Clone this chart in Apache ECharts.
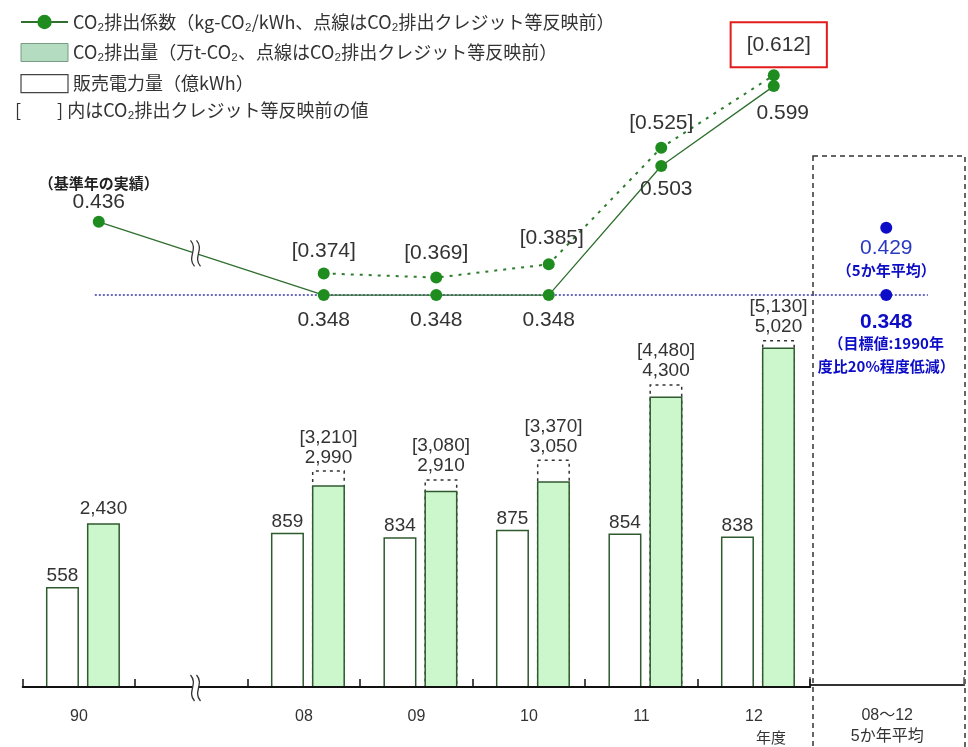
<!DOCTYPE html>
<html><head><meta charset="utf-8">
<script src="https://cdn.jsdelivr.net/npm/echarts@6/dist/echarts.min.js"></script>
<style>html,body{margin:0;padding:0;background:#fff}#c{width:968px;height:747px}</style>
</head><body><div id="c"></div>
<script>
// ---------- data ----------
const categories = ['90', '', '08', '09', '10', '11', '12'];
const avgCategory = '08～12\n5か年平均';
const salesValues = [558, null, 859, 834, 875, 854, 838];            // 販売電力量（億kWh）
const emissionValues = [2430, null, 2990, 2910, 3050, 4300, 5020];    // CO2排出量（万t-CO2）
const emissionBeforeCredit = [null, null, 3210, 3080, 3370, 4480, 5130];
const coefValues = [0.436, null, 0.348, 0.348, 0.348, 0.503, 0.599]; // CO2排出係数
const coefBeforeCredit = [null, null, 0.374, 0.369, 0.385, 0.525, 0.612];
const avgCoef = 0.429;
const targetCoef = 0.348;
const legendNames = [
  'CO₂排出係数（kg-CO₂/kWh、点線はCO₂排出クレジット等反映前）',
  'CO₂排出量（万t-CO₂、点線はCO₂排出クレジット等反映前）',
  '販売電力量（億kWh）'
];
const noteText = '[　　] 内はCO₂排出クレジット等反映前の値';

// ---------- helpers ----------
const NUM_FONT = '"Liberation Sans", Arial, sans-serif';
const JP_FONT = '"Noto Sans CJK JP", sans-serif';
const MIX_FONT = '"Liberation Sans", "Noto Sans CJK JP", sans-serif';
const fmtC = v => Number(v).toLocaleString('en-US');
const fmt3 = v => Number(v).toFixed(3);
const avgIndex = categories.length;
const COEF_MIN = -0.124, COEF_MAX = 0.658;
const GREEN = '#1f8c1f';
const BLUE = '#0d0dc8';

const chart = echarts.init(document.getElementById('c'), null, {renderer: 'canvas'});

const gridCommon = {top: 37, bottom: 59, containLabel: false};
const CAT_W = 112.5;

// label placement (styles kept out of data arrays)
const solidLabel = {
  0: {position: 'top', distance: 4, formatter: p => '{b|（基準年の実績）}\n{v|' + fmt3(p.value[1]) + '}'},
  2: {position: 'bottom', distance: 9},
  3: {position: 'bottom', distance: 9},
  4: {position: 'bottom', distance: 9},
  5: {position: 'bottom', distance: 7, offset: [5, 0]},
  6: {position: 'bottom', distance: 11, offset: [9, 0]}
};
const dottedLabel = {
  2: {distance: 6},
  3: {distance: 8},
  4: {distance: 10, offset: [3, 0]},
  5: {distance: 9},
  6: {distance: 2, offset: [5, 0], borderColor: '#e21b1b', borderWidth: 2, padding: [13, 16, 12, 16]}
};

const solidData = [];
coefValues.forEach((v, i) => { if (v != null) solidData.push({value: [i, v], label: solidLabel[i]}); });
const dottedData = [];
coefBeforeCredit.forEach((v, i) => { if (v != null) dottedData.push({value: [i, v], label: dottedLabel[i]}); });

// break marks: on the coefficient line between 90 and 08, and on the axis
const breakX = 0.86;
const breakLineVal = coefValues[0] + (coefValues[2] - coefValues[0]) * breakX / 2;

function renderBreak(params, api) {
  const p = api.coord([api.value(0), api.value(1)]);
  const h = 13;
  const curves = [-3, 3].map(dx => ({
    type: 'bezierCurve',
    shape: {x1: p[0] + dx - 2, y1: p[1] - h, cpx1: p[0] + dx + 6, cpy1: p[1] - 4,
            cpx2: p[0] + dx - 6, cpy2: p[1] + 4, x2: p[0] + dx + 2, y2: p[1] + h},
    style: {stroke: '#333', lineWidth: 1.3, fill: 'none'}
  }));
  return {type: 'group', children: [
    {type: 'rect', shape: {x: p[0] - 3, y: p[1] - h + 2, width: 6, height: 2 * h - 4}, style: {fill: '#fff'}},
    ...curves
  ]};
}

const option = {
  animation: false,
  backgroundColor: '#fff',
  title: {
    text: noteText, left: 10, top: 96,
    textStyle: {fontSize: 18, fontWeight: 'normal', color: '#333', fontFamily: JP_FONT}
  },
  legend: {
    orient: 'vertical', left: 15, top: 8, itemWidth: 47, itemHeight: 18, itemGap: 12,
    selectedMode: false,
    textStyle: {fontSize: 18, color: '#333', fontFamily: JP_FONT},
    data: [
      {name: legendNames[0]},
      {name: legendNames[1], icon: 'rect', itemStyle: {color: '#b3dcc0', borderColor: '#7a9a85', borderWidth: 1}},
      {name: legendNames[2], icon: 'rect', itemStyle: {color: '#fff', borderColor: '#444', borderWidth: 1.2}}
    ]
  },
  grid: [
    Object.assign({left: 22.7, width: CAT_W * categories.length}, gridCommon),          // axis
    Object.assign({left: 26.7, width: CAT_W * categories.length}, gridCommon),          // bars
    Object.assign({left: 42.5, width: CAT_W * (categories.length + 1)}, gridCommon),    // coefficient lines
    Object.assign({left: 22.7 + CAT_W * categories.length, width: 154}, gridCommon)     // 5-year average
  ],
  xAxis: [
    {
      gridIndex: 0, type: 'category', data: categories, z: 5,
      axisLine: {lineStyle: {color: '#111', width: 2}},
      axisTick: {show: true, inside: true, length: 8, interval: 0, lineStyle: {color: '#111', width: 1.5}},
      axisLabel: {
        interval: 0, margin: 20, fontSize: 16, lineHeight: 20, color: '#333', fontFamily: MIX_FONT,
        formatter: v => v === '12' ? '12\n{n|年度}' : v,
        rich: {n: {fontSize: 15, lineHeight: 20, color: '#333', fontFamily: JP_FONT, padding: [0, 0, 0, 34]}}
      }
    },
    {gridIndex: 1, type: 'category', data: categories, show: false},
    {gridIndex: 1, type: 'category', data: categories, show: false},
    {gridIndex: 2, type: 'value', min: -0.5, max: avgIndex + 0.5, show: false},
    {
      gridIndex: 3, type: 'category', data: [avgCategory],
      axisLine: {lineStyle: {color: '#333', width: 2}},
      axisTick: {show: true, inside: true, length: 8, lineStyle: {color: '#555', width: 1.5}},
      axisLabel: {margin: 20, fontSize: 16, lineHeight: 21, color: '#333', fontFamily: MIX_FONT}
    }
  ],
  yAxis: [
    {gridIndex: 0, type: 'value', show: false, splitLine: {show: false}},
    {gridIndex: 1, type: 'value', min: 0, max: 3600, show: false, splitLine: {show: false}},
    {gridIndex: 1, type: 'value', min: 0, max: 9600, show: false, splitLine: {show: false}},
    {gridIndex: 2, type: 'value', min: COEF_MIN, max: COEF_MAX, show: false, splitLine: {show: false}},
    {gridIndex: 3, type: 'value', show: false, splitLine: {show: false}}
  ],
  graphic: [
    {type: 'rect', z: 0, silent: true,
     shape: {x: 813, y: 156, width: 152, height: 620},
     style: {fill: 'none', stroke: '#333', lineWidth: 1.5, lineDash: [5, 4]}}
  ],
  series: [
    {
      name: legendNames[2], type: 'bar', xAxisIndex: 1, yAxisIndex: 1,
      data: salesValues, barWidth: 33, barGap: '24.2%', z: 3,
      itemStyle: {color: '#ffffff', borderColor: '#2f5a2f', borderWidth: 1.5},
      label: {show: true, position: 'top', distance: 1, fontSize: 19, lineHeight: 20,
              color: '#333', fontFamily: NUM_FONT, formatter: p => fmtC(p.value)}
    },
    {
      name: legendNames[1], type: 'bar', xAxisIndex: 1, yAxisIndex: 2,
      data: emissionValues.map((v, i) => emissionBeforeCredit[i] == null && v != null
        ? {value: v, label: {show: true}} : v),
      barWidth: 33, barGap: '24.2%', z: 3,
      itemStyle: {color: '#ccf7cc', borderColor: '#2f5a2f', borderWidth: 1.5},
      label: {show: false, position: 'top', distance: 4, fontSize: 19, lineHeight: 20,
              color: '#333', fontFamily: NUM_FONT, formatter: p => fmtC(p.value)}
    },
    {
      name: 'placeholder', type: 'bar', xAxisIndex: 2, yAxisIndex: 1,
      data: [], barWidth: 33, barGap: '24.2%'
    },
    {
      name: 'beforeCredit', type: 'bar', xAxisIndex: 2, yAxisIndex: 2,
      data: emissionBeforeCredit, barWidth: 33, barGap: '24.2%', z: 2,
      itemStyle: {color: 'rgba(0,0,0,0)', borderColor: '#333', borderWidth: 1.5, borderType: [3, 4]},
      label: {show: true, position: 'top', distance: 3, fontSize: 19, lineHeight: 20,
              color: '#333', fontFamily: NUM_FONT,
              formatter: p => '[' + fmtC(emissionBeforeCredit[p.dataIndex]) + ']\n' + fmtC(emissionValues[p.dataIndex])}
    },
    {
      name: 'beforeCreditCoef', type: 'line', xAxisIndex: 3, yAxisIndex: 3,
      data: dottedData, z: 5,
      symbol: 'circle', symbolSize: 12,
      itemStyle: {color: GREEN},
      lineStyle: {color: '#2e7d2e', width: 2, type: [3, 6]},
      label: {show: true, position: 'top', fontSize: 21, lineHeight: 20, color: '#333',
              fontFamily: NUM_FONT, formatter: p => '[' + fmt3(p.value[1]) + ']'}
    },
    {
      name: legendNames[0], type: 'line', xAxisIndex: 3, yAxisIndex: 3,
      data: solidData, z: 6,
      symbol: 'circle', symbolSize: 12,
      itemStyle: {color: GREEN},
      lineStyle: {color: '#2f6f2f', width: 1.3},
      label: {show: true, fontSize: 21, lineHeight: 20, color: '#333', fontFamily: NUM_FONT,
              formatter: p => fmt3(p.value[1]),
              rich: {
                b: {fontSize: 15, fontWeight: 'bold', lineHeight: 18, color: '#222', fontFamily: JP_FONT},
                v: {fontSize: 21, lineHeight: 20, color: '#333', fontFamily: NUM_FONT}
              }}
    },
    {
      name: 'average', type: 'scatter', xAxisIndex: 3, yAxisIndex: 3, z: 4,
      symbol: 'circle', symbolSize: 12,
      itemStyle: {color: BLUE, opacity: 1},
      data: [
        {value: [avgIndex, avgCoef], label: {
          show: true, position: 'bottom', distance: 5,
          formatter: p => '{v|' + fmt3(p.value[1]) + '}\n{b|（5か年平均）}'}},
        {value: [avgIndex, targetCoef], label: {
          show: true, position: 'bottom', distance: 11,
          formatter: p => '{vb|' + fmt3(p.value[1]) + '}\n{b|（目標値:1990年}\n{b|度比20%程度低減）}'}}
      ],
      label: {
        opacity: 1,
        rich: {
          v: {fontSize: 21, lineHeight: 20, color: '#2a3ac0', fontFamily: NUM_FONT},
          vb: {fontSize: 21, lineHeight: 20, color: BLUE, fontWeight: 'bold', fontFamily: NUM_FONT},
          b: {fontSize: 15, lineHeight: 23, color: BLUE, fontWeight: 'bold', fontFamily: JP_FONT}
        }
      },
      markLine: {
        silent: true, symbol: ['none', 'none'], label: {show: false}, z: 3,
        lineStyle: {color: '#3a3aa8', type: [2, 2], width: 1.5},
        data: [[{coord: [-0.035, targetCoef]}, {coord: [avgIndex + 0.37, targetCoef]}]]
      }
    },
    {
      name: 'breaks', type: 'custom', xAxisIndex: 3, yAxisIndex: 3, z: 10, silent: true,
      renderItem: renderBreak,
      data: [[breakX, breakLineVal], [breakX, COEF_MIN]]
    }
  ]
};
chart.setOption(option);
</script></body></html>
